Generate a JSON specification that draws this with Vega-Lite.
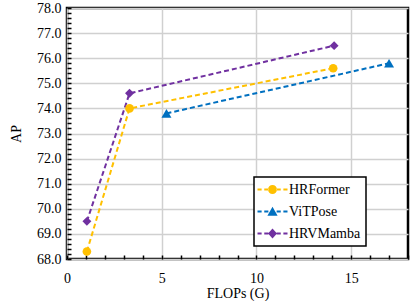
{
  "$schema": "https://vega.github.io/schema/vega-lite/v6.json",
  "width": 341,
  "height": 251,
  "autosize": {"type": "none"},
  "padding": {"left": 67, "top": 8, "right": 11, "bottom": 42},
  "background": "white",
  "config": {
    "font": "Liberation Serif",
    "text": {"font": "Liberation Serif"},
    "view": {"stroke": "black", "strokeWidth": 2.5},
    "axis": {
      "labelFont": "Times New Roman",
      "titleFont": "Times New Roman",
      "labelFontSize": 14,
      "titleFontSize": 14,
      "labelColor": "black",
      "titleColor": "black",
      "titleFontWeight": "normal",
      "domain": false,
      "tickColor": "black",
      "tickWidth": 1.5,
      "tickSize": -4,
      "gridColor": "#d0d0d0",
      "gridWidth": 1.5,
      "labelOverlap": false,
      "labelFlush": false
    },
    "legend": {
      "orient": "none",
      "legendX": 187,
      "legendY": 169,
      "strokeColor": "black",
      "strokeWidth": 1.5,
      "fillColor": "white",
      "padding": 5,
      "labelFont": "Times New Roman",
      "labelFontSize": 14,
      "labelColor": "black",
      "symbolSize": 225,
      "symbolOffset": 6,
      "labelOffset": 9,
      "rowPadding": 7
    }
  },
  "data": {
    "values": [
      {"series": "HRFormer", "flops": 1.05, "ap": 68.3},
      {"series": "HRFormer", "flops": 3.3, "ap": 74.0},
      {"series": "HRFormer", "flops": 14.05, "ap": 75.6},
      {"series": "ViTPose", "flops": 5.25, "ap": 73.8},
      {"series": "ViTPose", "flops": 17.0, "ap": 75.8},
      {"series": "HRVMamba", "flops": 1.05, "ap": 69.5},
      {"series": "HRVMamba", "flops": 3.3, "ap": 74.6},
      {"series": "HRVMamba", "flops": 14.1, "ap": 76.5}
    ]
  },
  "encoding": {
    "x": {
      "field": "flops",
      "type": "quantitative",
      "scale": {"domain": [0, 18], "nice": false, "zero": false},
      "axis": {
        "title": "FLOPs (G)",
        "values": [0,1,2,3,4,5,6,7,8,9,10,11,12,13,14,15,16,17,18],
        "labelExpr": "datum.value % 5 === 0 ? datum.label : ''",
        "gridOpacity": {"condition": {"test": "datum.value % 5 === 0", "value": 1}, "value": 0},
        "labelPadding": 16,
        "titlePadding": 1
      }
    },
    "y": {
      "field": "ap",
      "type": "quantitative",
      "scale": {"domain": [68, 78], "nice": false, "zero": false},
      "axis": {
        "title": "AP",
        "values": [68,68.2,68.4,68.6,68.8,69,69.2,69.4,69.6,69.8,70,70.2,70.4,70.6,70.8,71,71.2,71.4,71.6,71.8,72,72.2,72.4,72.6,72.8,73,73.2,73.4,73.6,73.8,74,74.2,74.4,74.6,74.8,75,75.2,75.4,75.6,75.8,76,76.2,76.4,76.6,76.8,77,77.2,77.4,77.6,77.8,78],
        "labelExpr": "abs(datum.value - round(datum.value)) < 0.01 ? format(datum.value, '.1f') : ''",
        "gridOpacity": {"condition": {"test": "abs(datum.value - round(datum.value)) < 0.01", "value": 1}, "value": 0},
        "labelPadding": 10,
        "titlePadding": 13
      }
    },
    "color": {
      "field": "series",
      "type": "nominal",
      "scale": {"domain": ["HRFormer", "ViTPose", "HRVMamba"], "range": ["#FFC000", "#0070C0", "#7030A0"]},
      "legend": {
        "title": null,
        "encode": {
          "symbols": {
            "update": {
              "shape": {"signal": "datum.value === 'HRFormer' ? 'M-2,-0.13H-1.45V0.13H-2ZM-1.1,-0.13H-0.55V0.13H-1.1ZM0.55,-0.13H1.1V0.13H0.55ZM1.45,-0.13H2V0.13H1.45ZM-0.6,0A0.6,0.6,0,1,0,0.6,0A0.6,0.6,0,1,0,-0.6,0Z' : datum.value === 'ViTPose' ? 'M-2,-0.13H-1.45V0.13H-2ZM-1.1,-0.13H-0.55V0.13H-1.1ZM0.55,-0.13H1.1V0.13H0.55ZM1.45,-0.13H2V0.13H1.45ZM0,-0.62L0.68,0.55L-0.68,0.55Z' : 'M-2,-0.13H-1.45V0.13H-2ZM-1.1,-0.13H-0.55V0.13H-1.1ZM0.55,-0.13H1.1V0.13H0.55ZM1.45,-0.13H2V0.13H1.45ZM0,-0.68L0.6,0L0,0.68L-0.6,0Z'"},
              "fill": {"signal": "scale('color', datum.value)"},
              "fillOpacity": {"value": 1},
              "opacity": {"value": 1},
              "strokeWidth": {"value": 0},
              "size": {"value": 225}
            }
          }
        }
      }
    }
  },
  "layer": [
    {
      "mark": {"type": "line", "strokeWidth": 2, "strokeDash": [5, 3]},
      "encoding": {}
    },
    {
      "transform": [{"filter": "datum.series === 'HRFormer'"}],
      "mark": {"type": "point", "filled": true, "opacity": 1, "size": 75, "shape": "circle"},
      "encoding": {}
    },
    {
      "transform": [{"filter": "datum.series === 'ViTPose'"}],
      "mark": {"type": "point", "filled": true, "opacity": 1, "size": 100, "shape": "triangle-up"},
      "encoding": {}
    },
    {
      "transform": [{"filter": "datum.series === 'HRVMamba'"}],
      "mark": {"type": "point", "filled": true, "opacity": 1, "size": 80, "shape": "diamond"},
      "encoding": {}
    }
  ]
}
